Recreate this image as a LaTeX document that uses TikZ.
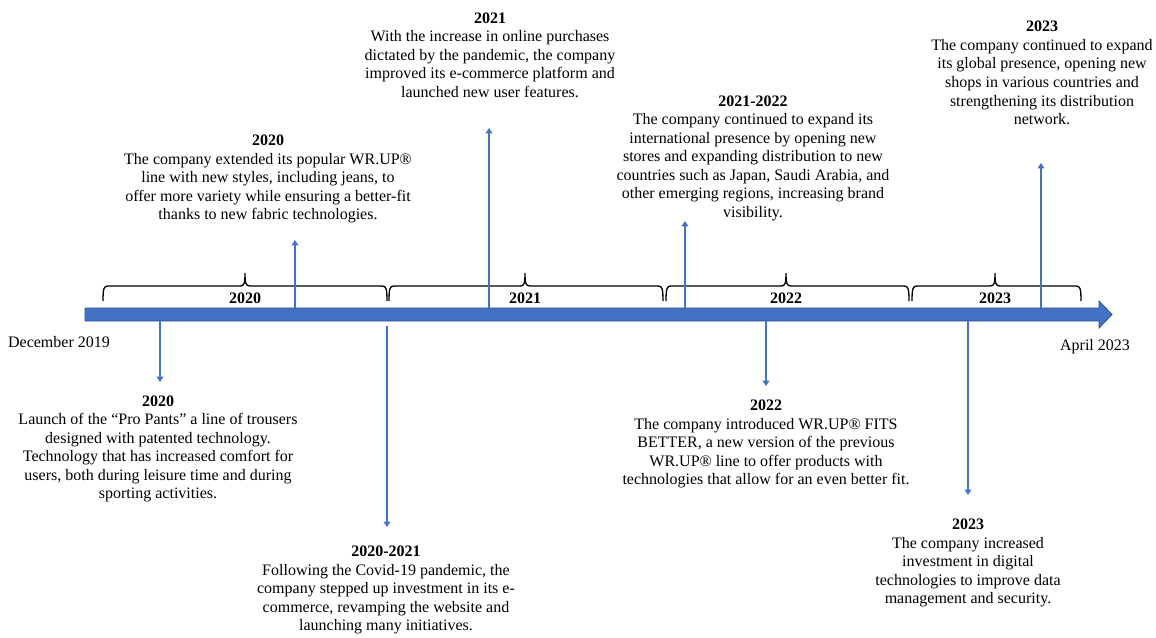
\documentclass[tikz,border=0pt]{standalone}
\usepackage{fontspec}
\setmainfont{Liberation Serif}
\usetikzlibrary{arrows.meta}
\definecolor{barblue}{HTML}{4472C4}
\definecolor{baredge}{HTML}{2F528F}

\begin{document}
\begin{tikzpicture}[x=0.75pt,y=-0.75pt,
	every node/.style={font=\fontsize{12}{13.9}\selectfont,align=center,inner sep=0pt},
	yearlabel/.style={font=\fontsize{12}{13.9}\selectfont\bfseries},
	event/.style={draw=barblue,line width=1.6pt,-{Triangle[width=5pt,length=4pt]}},
	yearbrace/.style={draw=black,line width=1pt}]

			\useasboundingbox (0,0) rectangle (1156,637);

			\draw[fill=barblue,draw=baredge,line width=0.6pt] (85,308) -- (1099,308) -- (1099,301) -- (1112,314.5) -- (1099,328) -- (1099,321) -- (85,321) -- cycle;

			\node (start) at (59,342) {December 2019};
			\node (finish) at (1095,347) {April 2023};

			\draw[yearbrace] (103,301) .. controls (103,288) and (104,286) .. (108,286) -- (240,286) .. controls (244,286) and (245,284) .. (245,273) .. controls (245,284) and (246,286) .. (250,286) -- (382,286) .. controls (386,286) and (387,288) .. (387,301);
			\draw[yearbrace] (389,301) .. controls (389,288) and (390,286) .. (394,286) -- (520,286) .. controls (524,286) and (525,284) .. (525,273) .. controls (525,284) and (526,286) .. (530,286) -- (658,286) .. controls (662,286) and (663,288) .. (663,301);
			\draw[yearbrace] (666,301) .. controls (666,288) and (667,286) .. (671,286) -- (781,286) .. controls (785,286) and (786,284) .. (786,273) .. controls (786,284) and (787,286) .. (791,286) -- (904,286) .. controls (908,286) and (909,288) .. (909,301);
			\draw[yearbrace] (912,301) .. controls (912,288) and (913,286) .. (917,286) -- (990,286) .. controls (994,286) and (995,284) .. (995,273) .. controls (995,284) and (996,286) .. (1000,286) -- (1076,286) .. controls (1080,286) and (1081,288) .. (1081,301);

			\node[yearlabel] (y2020) at (245,298) {2020};
			\node[yearlabel] (y2021) at (525,298) {2021};
			\node[yearlabel] (y2022) at (786,298) {2022};
			\node[yearlabel] (y2023) at (995,298) {2023};

			% above the bar
			\node (up1) at (268,179) {\textbf{2020}\\The company extended its popular WR.UP®\\line with new styles, including jeans, to\\offer more variety while ensuring a better-fit\\thanks to new fabric technologies.};
			\node (up2) at (490,55) {\textbf{2021}\\With the increase in online purchases\\dictated by the pandemic, the company\\improved its e-commerce platform and\\launched new user features.};
			\node (up3) at (753,158) {\textbf{2021-2022}\\The company continued to expand its\\international presence by opening new\\stores and expanding distribution to new\\countries such as Japan, Saudi Arabia, and\\other emerging regions, increasing brand\\visibility.};
			\node (up4) at (1042,73) {\textbf{2023}\\The company continued to expand\\its global presence, opening new\\shops in various countries and\\strengthening its distribution\\network.};

			% below the bar
			\node (dn1) at (158,449) {\textbf{2020}\\Launch of the “Pro Pants” a line of trousers\\designed with patented technology.\\Technology that has increased comfort for\\users, both during leisure time and during\\sporting activities.};
			\node (dn2) at (386,590) {\textbf{2020-2021}\\Following the Covid-19 pandemic, the\\company stepped up investment in its e-\\commerce, revamping the website and\\launching many initiatives.};
			\node (dn3) at (766,444) {\textbf{2022}\\The company introduced WR.UP® FITS\\BETTER, a new version of the previous\\WR.UP® line to offer products with\\technologies that allow for an even better fit.};
			\node (dn4) at (968,563) {\textbf{2023}\\The company increased\\investment in digital\\technologies to improve data\\management and security.};

			\coordinate (u1a) at (295,308);  \coordinate (u1b) at (295,240);
			\coordinate (u2a) at (489,308);  \coordinate (u2b) at (489,128);
			\coordinate (u3a) at (685,308);  \coordinate (u3b) at (685,221);
			\coordinate (u4a) at (1041,308); \coordinate (u4b) at (1041,163);
			\coordinate (d1a) at (160,321);  \coordinate (d1b) at (160,382);
			\coordinate (d2a) at (387,326);  \coordinate (d2b) at (387,527);
			\coordinate (d3a) at (766,321);  \coordinate (d3b) at (766,386);
			\coordinate (d4a) at (968,321);  \coordinate (d4b) at (968,495);

			\draw[event] (u1a) -- (u1b);
			\draw[event] (u2a) -- (u2b);
			\draw[event] (u3a) -- (u3b);
			\draw[event] (u4a) -- (u4b);
			\draw[event] (d1a) -- (d1b);
			\draw[event] (d2a) -- (d2b);
			\draw[event] (d3a) -- (d3b);
			\draw[event] (d4a) -- (d4b);
		\end{tikzpicture}
\end{document}
